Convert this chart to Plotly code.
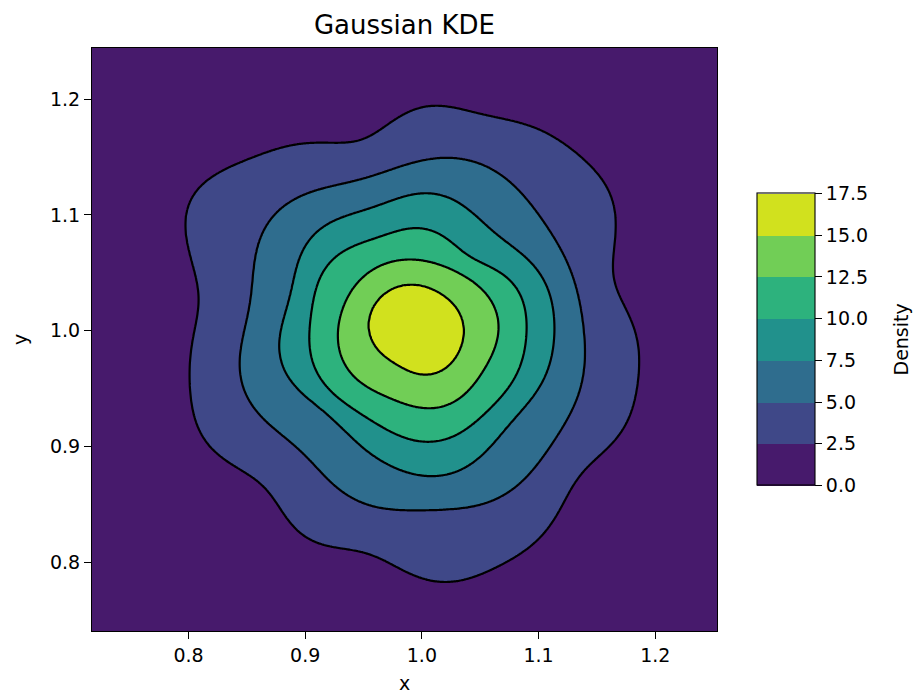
import numpy as np
import plotly.graph_objects as go

# ---------------- data ----------------
title_text = "Gaussian KDE"
x_label = "x"
y_label = "y"
cbar_label = "Density"

levels = [2.5, 5.0, 7.5, 10.0, 12.5, 15.0]
level_step = 2.5
level_max = 17.5
peak_density = 16.8
center_x = 0.997
center_y = 1.000

x_ticks = [0.8, 0.9, 1.0, 1.1, 1.2]
x_tick_labels = ["0.8", "0.9", "1.0", "1.1", "1.2"]
y_ticks = [0.8, 0.9, 1.0, 1.1, 1.2]
y_tick_labels = ["0.8", "0.9", "1.0", "1.1", "1.2"]
cbar_ticks = [0.0, 2.5, 5.0, 7.5, 10.0, 12.5, 15.0, 17.5]
cbar_tick_labels = ["0.0", "2.5", "5.0", "7.5", "10.0", "12.5", "15.0", "17.5"]
x_range = [0.7173, 1.2529]
y_range = [0.741, 1.244]

# contour boundaries (density = 2.5)
c25_x = [1.007, 0.983, 0.970, 0.956, 0.936, 0.908, 0.885, 0.854, 0.820, 0.804,
         0.799, 0.799, 0.805, 0.808, 0.804, 0.801, 0.803, 0.809, 0.823, 0.847,
         0.864, 0.878, 0.891, 0.908, 0.939, 0.970, 0.994, 1.018, 1.038, 1.062,
         1.086, 1.103, 1.120, 1.140, 1.161, 1.176, 1.185, 1.187, 1.181, 1.173,
         1.166, 1.164, 1.164, 1.159, 1.147, 1.127, 1.106, 1.082, 1.059, 1.031]
c25_y = [1.193, 1.188, 1.178, 1.167, 1.162, 1.163, 1.160, 1.148, 1.133, 1.119,
         1.103, 1.077, 1.052, 1.026, 0.994, 0.962, 0.936, 0.914, 0.895, 0.879,
         0.866, 0.847, 0.829, 0.819, 0.811, 0.800, 0.789, 0.783, 0.786, 0.795,
         0.808, 0.824, 0.850, 0.879, 0.901, 0.924, 0.949, 0.975, 1.000, 1.023,
         1.045, 1.071, 1.106, 1.125, 1.141, 1.157, 1.170, 1.181, 1.186, 1.191]
# density = 5.0
c50_x = [1.018, 0.994, 0.973, 0.949, 0.922, 0.898, 0.874, 0.861, 0.856, 0.856,
         0.850, 0.845, 0.844, 0.849, 0.861, 0.881, 0.902, 0.919, 0.939, 0.963,
         1.001, 1.031, 1.059, 1.082, 1.103, 1.120, 1.132, 1.139, 1.139, 1.135,
         1.127, 1.117, 1.100, 1.086, 1.065, 1.045]
c50_y = [1.150, 1.145, 1.138, 1.132, 1.125, 1.116, 1.100, 1.081, 1.058, 1.036,
         1.013, 0.991, 0.972, 0.949, 0.927, 0.908, 0.892, 0.872, 0.856, 0.848,
         0.845, 0.847, 0.853, 0.866, 0.892, 0.914, 0.940, 0.972, 1.000, 1.026,
         1.052, 1.074, 1.100, 1.119, 1.135, 1.146]
# density = 7.5
c75_x = [1.010, 0.987, 0.964, 0.941, 0.918, 0.901, 0.893, 0.890, 0.885, 0.880,
         0.877, 0.881, 0.893, 0.913, 0.933, 0.952, 0.975, 0.995, 1.012, 1.032,
         1.050, 1.067, 1.084, 1.098, 1.109, 1.114, 1.112, 1.107, 1.095, 1.078,
         1.061, 1.050, 1.038, 1.027]
c75_y = [1.117, 1.116, 1.110, 1.101, 1.090, 1.076, 1.058, 1.041, 1.021, 1.004,
         0.987, 0.969, 0.952, 0.932, 0.915, 0.897, 0.883, 0.876, 0.874, 0.880,
         0.892, 0.909, 0.929, 0.949, 0.969, 0.992, 1.015, 1.038, 1.058, 1.073,
         1.084, 1.096, 1.107, 1.114]
# density = 10.0
c100_x = [1.004, 0.987, 0.967, 0.947, 0.927, 0.915, 0.908, 0.905, 0.905, 0.904,
          0.907, 0.918, 0.935, 0.955, 0.975, 0.998, 1.018, 1.038, 1.055, 1.069,
          1.081, 1.088, 1.089, 1.087, 1.078, 1.067, 1.044, 1.030, 1.018]
c100_y = [1.087, 1.087, 1.083, 1.076, 1.063, 1.050, 1.035, 1.018, 1.001, 0.987,
          0.969, 0.952, 0.938, 0.923, 0.912, 0.905, 0.906, 0.915, 0.929, 0.946,
          0.961, 0.981, 1.004, 1.024, 1.041, 1.051, 1.061, 1.073, 1.083]
# density = 12.5
c125_x = [0.987, 1.007, 1.024, 1.038, 1.052, 1.062, 1.065, 1.064, 1.061, 1.052,
          1.041, 1.024, 1.004, 0.987, 0.970, 0.952, 0.938, 0.930, 0.928, 0.931,
          0.938, 0.950, 0.967]
c125_y = [1.061, 1.060, 1.054, 1.045, 1.035, 1.024, 1.010, 0.995, 0.981, 0.964,
          0.949, 0.938, 0.933, 0.936, 0.943, 0.953, 0.965, 0.978, 0.995, 1.012,
          1.033, 1.047, 1.057]
# density = 15.0
c150_x = [0.990, 1.010, 1.024, 1.032, 1.036, 1.034, 1.027, 1.015, 1.001, 0.987,
          0.972, 0.960, 0.954, 0.957, 0.967, 0.978]
c150_y = [1.040, 1.035, 1.027, 1.015, 1.001, 0.987, 0.974, 0.965, 0.962, 0.966,
          0.975, 0.987, 1.001, 1.017, 1.031, 1.038]

band_colors = ["#471a6c", "#3f4888", "#2f6d8e", "#21918c",
               "#2db27d", "#71ce56", "#d1e11e"]

# ---------------- build the density field ----------------
boundaries = [(c25_x, c25_y), (c50_x, c50_y), (c75_x, c75_y),
              (c100_x, c100_y), (c125_x, c125_y), (c150_x, c150_y)]

nx, ny = 480, 480
xs = np.linspace(x_range[0], x_range[1], nx)
ys = np.linspace(y_range[0], y_range[1], ny)
XX, YY = np.meshgrid(xs, ys)
DX = XX - center_x
DY = YY - center_y
TH = np.arctan2(DY, DX)
RR = np.hypot(DX, DY)


def radius_at(bx, by, theta):
    """Smooth periodic (Fourier least-squares) fit of boundary radius vs angle."""
    bx = np.asarray(bx)
    by = np.asarray(by)
    ang = np.arctan2(by - center_y, bx - center_x)
    rad = np.hypot(bx - center_x, by - center_y)
    K = min(12, len(bx) // 4)

    def design(t):
        cols = [np.ones_like(t)]
        for k in range(1, K + 1):
            cols.append(np.cos(k * t))
            cols.append(np.sin(k * t))
        return np.stack(cols, axis=-1)

    coef, *_ = np.linalg.lstsq(design(ang), rad, rcond=None)
    return design(theta) @ coef


Rk = [radius_at(bx, by, TH) for bx, by in boundaries]

Z = np.zeros_like(RR)
out = RR >= Rk[0]
Z[out] = levels[0] * np.exp(-(RR[out] - Rk[0][out]) / 0.035)
for k in range(len(levels) - 1):
    m = (RR < Rk[k]) & (RR >= Rk[k + 1])
    frac = (Rk[k][m] - RR[m]) / (Rk[k][m] - Rk[k + 1][m])
    Z[m] = levels[k] + (levels[k + 1] - levels[k]) * frac
inner = RR < Rk[-1]
Z[inner] = levels[-1] + (peak_density - levels[-1]) * (1 - RR[inner] / Rk[-1][inner])

cs = []
n = len(band_colors)
for i, c in enumerate(band_colors):
    cs.append([i / n, c])
    cs.append([(i + 1) / n, c])

font_family = "DejaVu Sans, Arial, sans-serif"
tick_size = 19
title_size = 26

fig = go.Figure()
# filled bands (with the colour bar)
fig.add_trace(go.Contour(
    x=xs, y=ys, z=Z,
    colorscale=cs, zmin=0, zmax=level_max,
    autocontour=False,
    contours=dict(start=0, end=level_max, size=level_step,
                  coloring="fill", showlines=False),
    line=dict(width=0, smoothing=1),
    hoverinfo="skip",
    colorbar=dict(
        x=1.064, xanchor="left", xpad=0, ypad=0,
        y=0.5, yanchor="middle", len=0.501, lenmode="fraction",
        thickness=58, thicknessmode="pixels",
        outlinewidth=1.1, outlinecolor="black",
        ticks="outside", ticklen=7, tickwidth=1.1, tickcolor="black",
        tickvals=cbar_ticks, ticktext=cbar_tick_labels,
        tickfont=dict(family=font_family, size=tick_size, color="black"),
    ),
))
# black contour lines
fig.add_trace(go.Contour(
    x=xs, y=ys, z=Z,
    autocontour=False,
    contours=dict(start=levels[0], end=levels[-1], size=level_step,
                  coloring="none", showlines=True),
    line=dict(color="black", width=2.2, smoothing=1),
    showscale=False,
    hoverinfo="skip",
))

axis_common = dict(
    showgrid=False, zeroline=False, showline=True, mirror=True,
    linecolor="black", linewidth=1.1, automargin=False,
    ticks="outside", ticklen=7, tickwidth=1.1, tickcolor="black",
    tickfont=dict(family=font_family, size=tick_size, color="black"),
)

label_font = dict(family=font_family, size=tick_size, color="black")

fig.update_layout(
    width=914, height=696,
    margin=dict(l=92, r=197, t=48, b=65),
    paper_bgcolor="white", plot_bgcolor="white",
    font=dict(family=font_family, size=tick_size, color="black"),
    title=dict(text=title_text, x=0.4425, xanchor="center",
               y=1 - 25 / 696, yanchor="middle", yref="container",
               font=dict(family=font_family, size=title_size, color="black")),
    xaxis=dict(range=x_range, tickvals=x_ticks, ticktext=x_tick_labels,
               **axis_common),
    yaxis=dict(range=y_range, tickvals=y_ticks, ticktext=y_tick_labels,
               **axis_common),
    annotations=[
        dict(text=cbar_label, textangle=-90, showarrow=False,
             xref="paper", yref="paper", x=(900 - 92) / 625, y=0.5,
             xanchor="center", yanchor="middle", font=label_font),
        dict(text=x_label, showarrow=False,
             xref="paper", yref="paper", x=0.5, y=(631 - 683) / 583,
             xanchor="center", yanchor="middle", font=label_font),
        dict(text=y_label, textangle=-90, showarrow=False,
             xref="paper", yref="paper", x=(19.5 - 92) / 625, y=0.5,
             xanchor="center", yanchor="middle", font=label_font),
    ],
)

fig.write_html("out.html")
